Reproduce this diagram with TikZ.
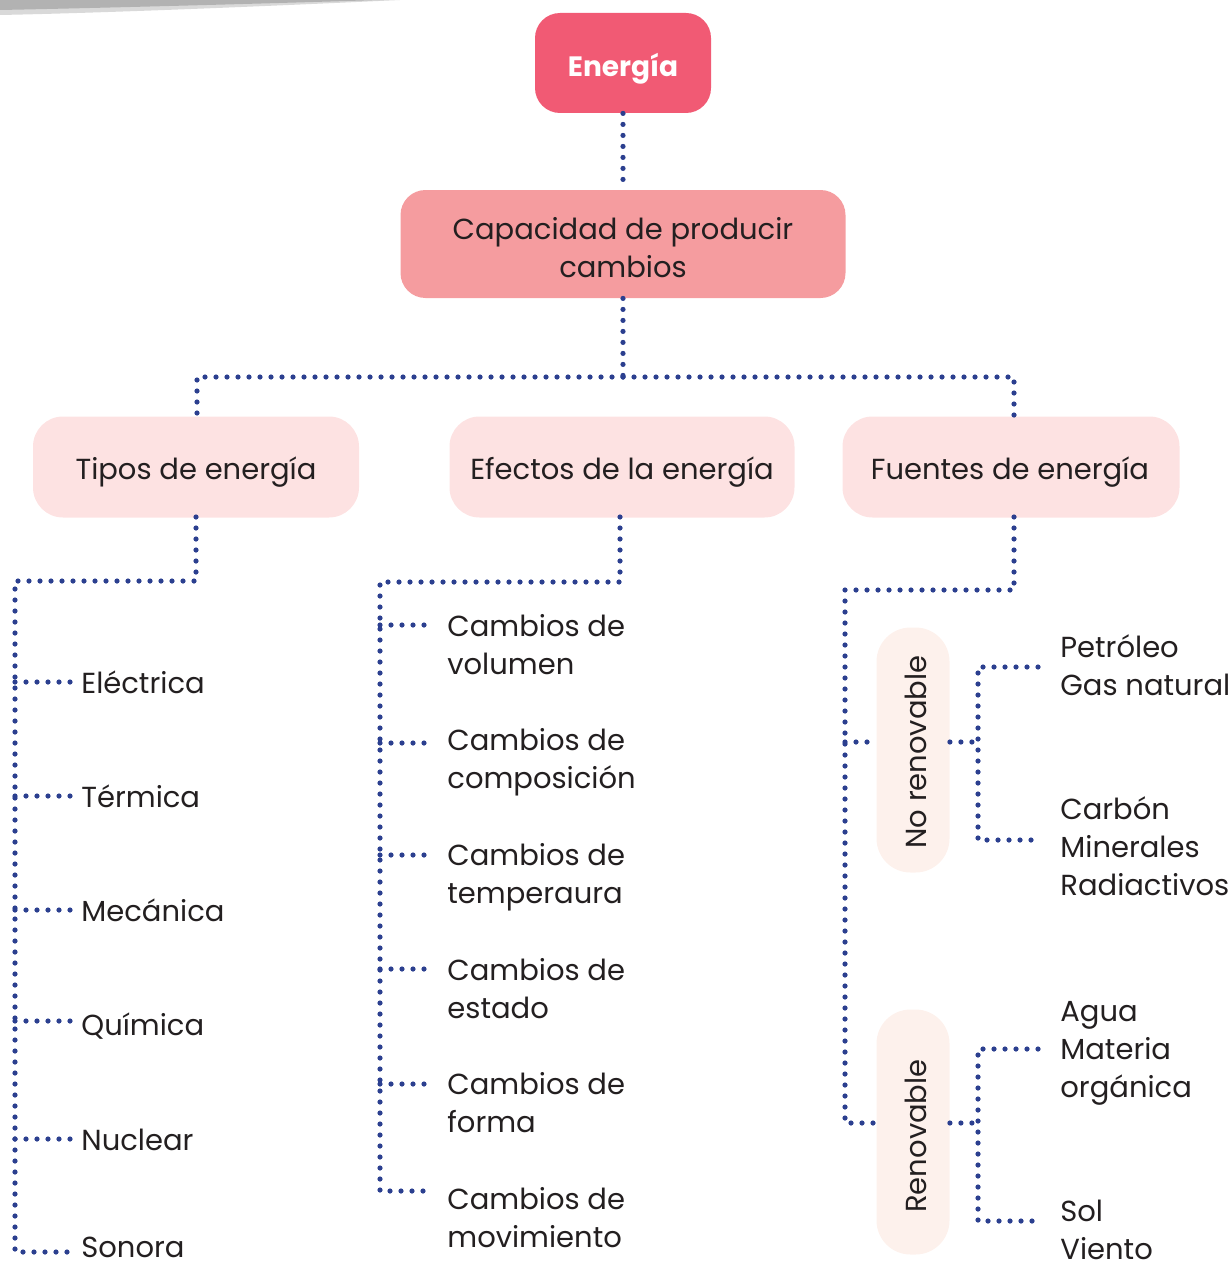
\documentclass[tikz,border=0pt]{standalone}
\usepackage{fontspec}
\setmainfont{Poppins}
\usetikzlibrary{calc}
\definecolor{dotblue}{HTML}{2B3F8F}
\definecolor{topred}{HTML}{F15A74}
\definecolor{midred}{HTML}{F59C9F}
\definecolor{lightpink}{HTML}{FDE2E2}
\definecolor{peach}{HTML}{FDF1EC}
\definecolor{txt}{HTML}{231F20}
\tikzset{
  dots/.style={draw=dotblue, line width=2.6pt, line cap=round, dash pattern=on 0pt off 5.5pt},
  lbl/.style={font=\fontsize{14.5}{19}\selectfont, text=txt, inner sep=0pt, anchor=base west, align=left},
  boxlbl/.style={font=\fontsize{14.5}{19}\selectfont, text=txt, inner sep=0pt, align=center, anchor=base},
}
\begin{document}
\begin{tikzpicture}[x=0.5pt,y=-0.5pt]
\useasboundingbox (0,0) rectangle (1228,1268);
% top swoosh
\fill[gray!30] (0,0) -- (400,0) .. controls (250,7) and (100,13) .. (0,15) -- cycle;
\fill[gray!60] (0,0) -- (380,0) .. controls (250,4) and (100,8) .. (0,10) -- cycle;

% main boxes
\node[fill=topred, rounded corners=12.5pt, minimum width=88pt, minimum height=50pt] (energia) at (623,63) {};
\node[text=white, font=\fontsize{14}{17}\selectfont\bfseries, inner sep=0pt, anchor=base] at (623,76) {Energía};
\node[fill=midred, rounded corners=12.5pt, minimum width=222.5pt, minimum height=54pt] (cap) at (623,244) {};
\node[boxlbl] at (623,277) {Capacidad de producir\\cambios};
\node[fill=lightpink, rounded corners=15pt, minimum width=163pt, minimum height=50.5pt] (tipos) at (196,467) {};
\node[boxlbl] at (196,479) {Tipos de energía};
\node[fill=lightpink, rounded corners=15pt, minimum width=172.5pt, minimum height=50.5pt] (efectos) at (622,467) {};
\node[boxlbl] at (622,479) {Efectos de la energía};
\node[fill=lightpink, rounded corners=15pt, minimum width=168.5pt, minimum height=50.5pt] (fuentes) at (1011,467) {};
\node[boxlbl] at (1010,479) {Fuentes de energía};
\node[fill=peach, rounded corners=17pt, minimum width=36.5pt, minimum height=122.5pt] (nrbox) at (913,750) {};
\node[font=\fontsize{14.5}{19}\selectfont, text=txt, rotate=90] at (916,752) {No renovable};
\node[fill=peach, rounded corners=17pt, minimum width=36.5pt, minimum height=122.5pt] (rbox) at (913,1132) {};
\node[font=\fontsize{14.5}{19}\selectfont, text=txt, rotate=90] at (916,1136) {Renovable};

% leaf labels (anchor = baseline of the last line)
\node[lbl] (l1) at (81,693) {Eléctrica};
\node[lbl] (l2) at (81,807) {Térmica};
\node[lbl] (l3) at (81,921) {Mecánica};
\node[lbl] (l4) at (81,1035) {Química};
\node[lbl] (l5) at (81,1150) {Nuclear};
\node[lbl] (l6) at (81,1257) {Sonora};

\node[lbl] (m1) at (447,674) {Cambios de\\volumen};
\node[lbl] (m2) at (447,788) {Cambios de\\composición};
\node[lbl] (m3) at (447,903) {Cambios de\\temperaura};
\node[lbl] (m4) at (447,1018) {Cambios de\\estado};
\node[lbl] (m5) at (447,1132) {Cambios de\\forma};
\node[lbl] (m6) at (447,1247) {Cambios de\\movimiento};

\node[lbl] (r1) at (1060,695) {Petróleo\\Gas natural};
\node[lbl] (r2) at (1060,895) {Carbón\\Minerales\\Radiactivos};
\node[lbl] (r3) at (1060,1097) {Agua\\Materia\\orgánica};
\node[lbl] (r4) at (1060,1259) {Sol\\Viento};

% connectors
\draw[dots] (energia.south) -- (cap.north);
\draw[dots] (cap.south) -- (623,377);
\draw[dots] (623,377) -- (197,377) -- (197,416);
\draw[dots] (623,377) -- (1014,377) -- (1014,416);

% tipos
\draw[dots] (196,517) -- (196,581) -- (15,581) -- (15,1252) -- (70,1252);
\foreach \y in {682,796,910,1021,1139} \draw[dots] (15,\y) -- (70,\y);

% efectos
\draw[dots] (620,517) -- (620,582) -- (380,582) -- (380,1191) -- (433,1191);
\foreach \y in {625,743,855,969,1084} \draw[dots] (380,\y) -- (433,\y);

% fuentes
\draw[dots] (1014,517) -- (1014,590) -- (845,590) -- (845,1123) -- (rbox.west |- 0,1123);
\draw[dots] (845,742) -- (nrbox.west |- 0,742);
\draw[dots] (nrbox.east |- 0,742) -- (978,742);
\draw[dots] (1038,667) -- (978,667) -- (978,840) -- (1038,840);
\draw[dots] (rbox.east |- 0,1123) -- (978,1123);
\draw[dots] (1038,1049) -- (978,1049) -- (978,1221) -- (1038,1221);
\end{tikzpicture}
\end{document}
